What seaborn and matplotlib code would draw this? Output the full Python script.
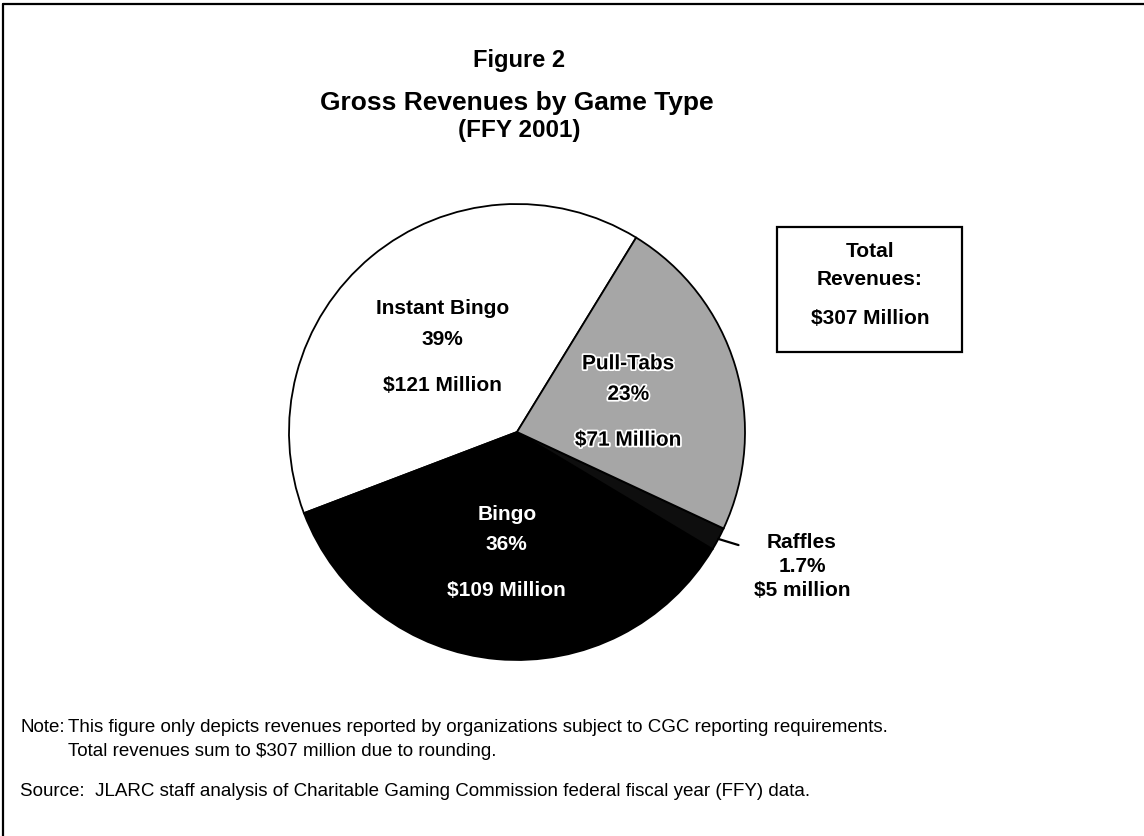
import numpy as np
import matplotlib
matplotlib.use("Agg")
import matplotlib.pyplot as plt
import matplotlib.patheffects as pe
from matplotlib.lines import Line2D
from matplotlib.patches import Rectangle
import seaborn as sns

# data
games = ["Instant Bingo", "Bingo", "Raffles", "Pull-Tabs"]
revenue_m = [121, 109, 5, 71]
pct_labels = ["39%", "36%", "1.7%", "23%"]
amount_labels = ["$121 Million", "$109 Million", "$5 million", "$71 Million"]
total_lines = ["Total", "Revenues:", "$307 Million"]

note_1 = "This figure only depicts revenues reported by organizations subject to CGC reporting requirements."
note_2 = "Total revenues sum to $307 million due to rounding."
source = "JLARC staff analysis of Charitable Gaming Commission federal fiscal year (FFY) data."

sns.set_theme(style="white")
plt.rcParams["font.family"] = ["Liberation Sans", "DejaVu Sans"]
plt.rcParams["text.color"] = "black"

W, H = 1144, 837
fig = plt.figure(figsize=(W / 100, H / 100), dpi=100)
fig.patch.set_facecolor("white")


def fx(px):
    return px / W


def fy(py):
    return 1 - py / H


# page frame (left + top only, rest is cut off in the scan)
fig.add_artist(Line2D([fx(3), fx(3)], [0, fy(5)], transform=fig.transFigure, color="black", lw=1.6))
fig.add_artist(Line2D([fx(3), 1], [fy(5), fy(5)], transform=fig.transFigure, color="black", lw=1.6))

fig.text(fx(519), fy(61), "Figure 2", ha="center", va="center", fontsize=17, fontweight="bold")
fig.text(fx(517), fy(103), "Gross Revenues by Game Type", ha="center", va="center", fontsize=19, fontweight="bold")
fig.text(fx(519), fy(131), "(FFY 2001)", ha="center", va="center", fontsize=17.5, fontweight="bold")

# pie
cx, cy, r = 517, 433, 228
pad = 6
ax = fig.add_axes([fx(cx - r - pad), fy(cy + r + pad), (2 * (r + pad)) / W, (2 * (r + pad)) / H])
colors = ["white", "black", "#0e0e0e", "#a6a6a6"]
wedges, _ = ax.pie(revenue_m, colors=colors, startangle=58.5, counterclock=True,
                   wedgeprops=dict(edgecolor="black", linewidth=1.3))
lim = (r + pad) / r
ax.set_xlim(-lim, lim)
ax.set_ylim(-lim, lim)
ax.axis("off")

txt_colors = ["black", "white", "black", "black"]
fsz = 15
for i, w in enumerate(wedges):
    mid = np.deg2rad((w.theta1 + w.theta2) / 2)
    if games[i] == "Raffles":
        x0, y0 = np.cos(mid), np.sin(mid)
        ax.plot([x0, 1.1 * x0], [y0, 1.1 * y0 + 0.02], color="black", lw=1.6, clip_on=False)
        for j, s in enumerate([games[i], pct_labels[i], amount_labels[i]]):
            ax.text(1.25, -0.48 - 0.105 * j, s, ha="center", va="center", fontsize=fsz,
                    fontweight="bold", clip_on=False)
        continue
    x0, y0 = 0.51 * np.cos(mid), 0.51 * np.sin(mid)
    effects = [pe.withStroke(linewidth=2.5, foreground="white")] if games[i] == "Pull-Tabs" else None
    for s, off in zip([games[i], pct_labels[i], amount_labels[i]], [25, 3, -30]):
        t = ax.annotate(s, xy=(x0, y0), xytext=(0, off), textcoords="offset points",
                        ha="center", va="center", fontsize=fsz, fontweight="bold", color=txt_colors[i])
        if effects:
            t.set_path_effects(effects)

# total box
fig.add_artist(Rectangle((fx(777), fy(353)), (962 - 777) / W, (353 - 228) / H, transform=fig.transFigure,
                         fill=False, edgecolor="black", lw=1.6))
for s, py in zip(total_lines, [252, 280, 318]):
    fig.text(fx(870), fy(py), s, ha="center", va="center", fontsize=fsz, fontweight="bold")

# notes
fs_note = 13.5
fig.text(fx(20), fy(728), "Note:", ha="left", va="center", fontsize=fs_note)
fig.text(fx(68), fy(728), note_1, ha="left", va="center", fontsize=fs_note)
fig.text(fx(68), fy(752), note_2, ha="left", va="center", fontsize=fs_note)
fig.text(fx(20), fy(792), "Source:  " + source, ha="left", va="center", fontsize=fs_note)

fig.savefig("out.png", dpi=100, facecolor="white")
